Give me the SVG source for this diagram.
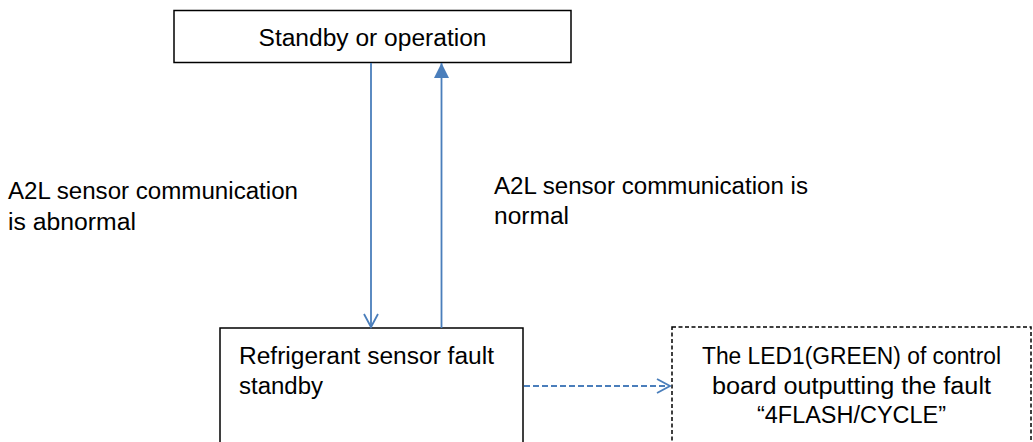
<svg xmlns="http://www.w3.org/2000/svg" width="1033" height="442" viewBox="0 0 1033 442">
<style>
.box{fill:#fff;stroke:#000;stroke-width:1.5}
.dbox{fill:#fff;stroke:#000;stroke-width:1.5;stroke-dasharray:4 2.5}
.t{font-family:"Liberation Sans",Arial,sans-serif;font-size:23px;fill:#000}
.c{stroke:#4a7ebb;stroke-width:1.8;fill:none}
</style>
<defs>
<marker id="open" markerWidth="16" markerHeight="16" refX="14" refY="8" orient="auto" markerUnits="userSpaceOnUse">
<path d="M1,1 L14,8 L1,15" fill="none" stroke="#4a7ebb" stroke-width="1.8"/>
</marker>
<marker id="fill" markerWidth="16" markerHeight="16" refX="15" refY="8" orient="auto" markerUnits="userSpaceOnUse">
<path d="M0,0.5 L15,8 L0,15.5 Z" fill="#4a7ebb"/>
</marker>
</defs>
<g id="node-standby">
<rect class="box" x="174" y="10.5" width="397" height="52"/>
<text class="t" x="372.5" y="46" text-anchor="middle" textLength="228" lengthAdjust="spacingAndGlyphs">Standby or operation</text>
</g>
<g id="node-fault">
<rect class="box" x="220" y="328" width="303" height="130"/>
<text class="t" x="239" y="364" textLength="255" lengthAdjust="spacingAndGlyphs">Refrigerant sensor fault</text>
<text class="t" x="239" y="394" textLength="84" lengthAdjust="spacingAndGlyphs">standby</text>
</g>
<g id="node-led">
<rect class="dbox" x="672" y="327" width="359" height="130"/>
<text class="t" x="851.5" y="364" text-anchor="middle" textLength="299" lengthAdjust="spacingAndGlyphs">The LED1(GREEN) of control</text>
<text class="t" x="851.5" y="394" text-anchor="middle" textLength="279" lengthAdjust="spacingAndGlyphs">board outputting the fault</text>
<text class="t" x="851.5" y="423" text-anchor="middle" textLength="189" lengthAdjust="spacingAndGlyphs">“4FLASH/CYCLE”</text>
</g>
<g id="labels">
<text class="t" x="8" y="199" textLength="290" lengthAdjust="spacingAndGlyphs">A2L sensor communication</text>
<text class="t" x="8" y="230" textLength="128" lengthAdjust="spacingAndGlyphs">is abnormal</text>
<text class="t" x="494" y="194" textLength="314" lengthAdjust="spacingAndGlyphs">A2L sensor communication is</text>
<text class="t" x="494" y="224" textLength="75" lengthAdjust="spacingAndGlyphs">normal</text>
</g>
<g id="connectors">
<line class="c" x1="371" y1="63" x2="371" y2="327" marker-end="url(#open)"/>
<line class="c" x1="441.5" y1="328" x2="441.5" y2="63" marker-end="url(#fill)"/>
<line class="c" x1="524" y1="386" x2="670" y2="386" stroke-dasharray="6 3" marker-end="url(#open)"/>
</g>
</svg>
